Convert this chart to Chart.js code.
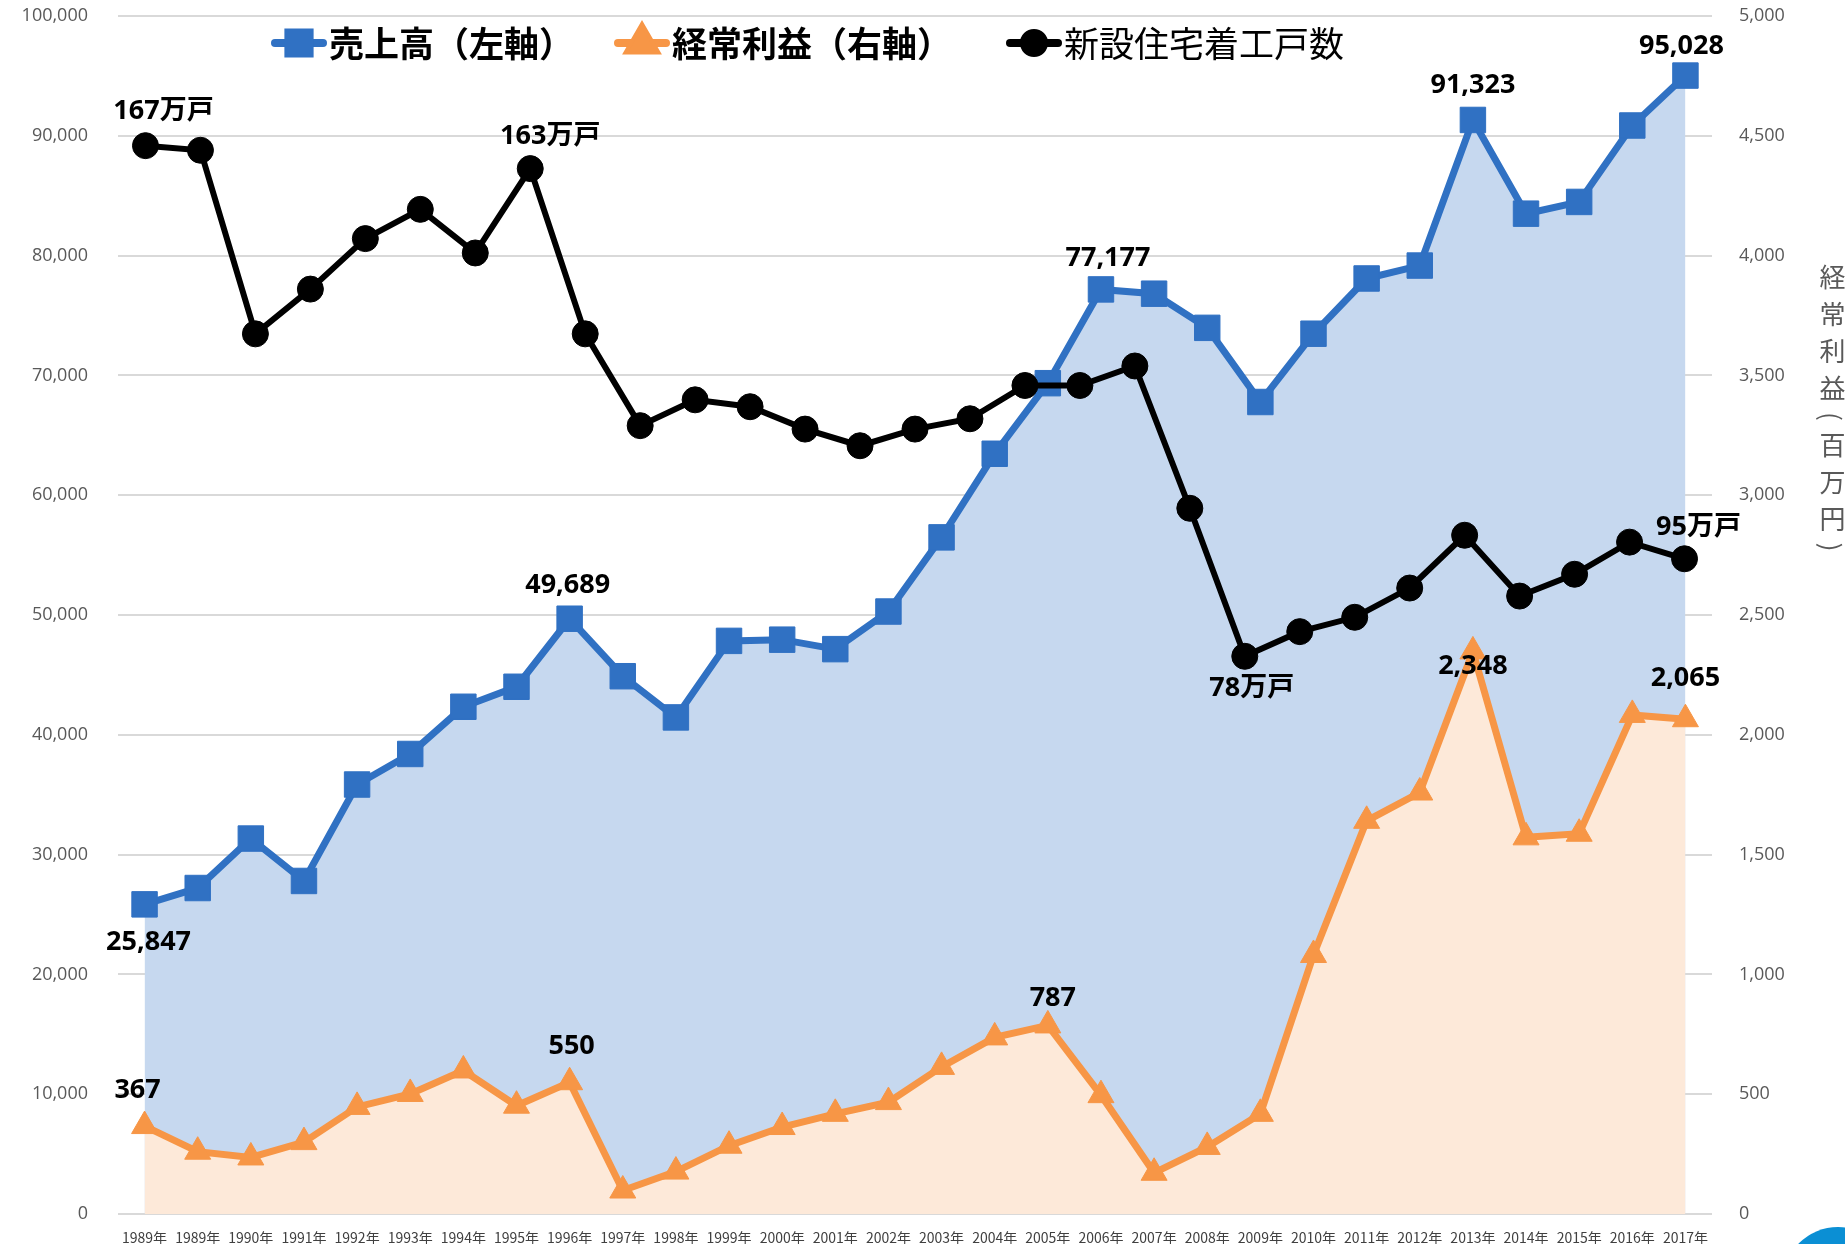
<!DOCTYPE html>
<html lang="ja">
<head>
<meta charset="utf-8">
<title>売上高・経常利益・新設住宅着工戸数</title>
<script src="https://cdn.jsdelivr.net/npm/chart.js@4.4.0/dist/chart.umd.min.js"></script>
<style>
  html, body { margin: 0; padding: 0; background: #fff; }
  #wrap { position: relative; width: 1845px; height: 1244px; overflow: hidden; }
  #chart { position: absolute; left: 0; top: 0; }
  #y1title {
    position: absolute; left: 1814px; top: 264px;
    writing-mode: vertical-rl;
    font: 26px "Noto Sans CJK JP", sans-serif;
    color: #595959; letter-spacing: 11px;
  }
  #badge {
    position: absolute; left: 1783px; top: 1227px;
    width: 110px; height: 110px; border-radius: 50%;
    background: #0b8fd4;
  }
</style>
</head>
<body>
<div id="wrap">
  <canvas id="chart" width="1845" height="1244"></canvas>
  <div id="y1title">経常利益(百万円)</div>
  <div id="badge"></div>
</div>
<script>
// データ
const years = ['1989年', '1989年', '1990年', '1991年', '1992年', '1993年', '1994年', '1995年',
  '1996年', '1997年', '1998年', '1999年', '2000年', '2001年', '2002年', '2003年', '2004年',
  '2005年', '2006年', '2007年', '2008年', '2009年', '2010年', '2011年', '2012年', '2013年',
  '2014年', '2015年', '2016年', '2017年'];

// 売上高（百万円・左軸）
const sales = [25847, 27210, 31340, 27800, 35850, 38400, 42340, 44010, 49689, 44890,
  41450, 47840, 47940, 47150, 50290, 56480, 63460, 69350, 77177, 76820,
  73970, 67780, 73480, 78090, 79170, 91323, 83500, 84480, 90860, 95028];

// 経常利益（百万円・右軸）
const profit = [367, 260, 236, 300, 447, 501, 599, 452, 550, 98,
  177, 285, 363, 418, 467, 614, 737, 787, 496, 172,
  280, 418, 1081, 1641, 1759, 2348, 1572, 1587, 2083, 2065];

// 新設住宅着工戸数（万戸）- 29点、別の横軸
const housingStarts = [167, 166.2, 134.2, 142.0, 150.8, 155.9, 148.3, 163, 134.2, 118.2,
  122.7, 121.5, 117.6, 114.7, 117.6, 119.4, 125.2, 125.2, 128.6, 103.8,
  78, 82.3, 84.8, 89.9, 99.1, 88.5, 92.3, 97.9, 95];

// ラベルを付ける点
const salesLabelIdx = [0, 8, 18, 25, 29];
const profitLabelIdx = [0, 8, 17, 25, 29];
const housingLabelIdx = [0, 7, 20, 28];

const BLUE = '#3071c3';
const ORANGE = '#f79646';
const BLUE_FILL = '#c6d8ef';
const ORANGE_FILL = '#fde9d9';
const JP = '"Noto Sans CJK JP", sans-serif';
const NUM = '"Open Sans", "Noto Sans CJK JP", sans-serif';

const fmt = v => v.toLocaleString('en-US');

// データラベル（位置の微調整は見た目に合わせて）
const labelSpec = [
  { ds: 2, idx: salesLabelIdx, text: v => fmt(v), off: [[4, 38], [-2, -33], [7, -31], [0, -35], [-4, -29]] },
  { ds: 3, idx: profitLabelIdx, text: v => fmt(v), off: [[-7, -36], [2, -36], [5, -27], [0, 15], [0, -41]] },
  { ds: 4, idx: housingLabelIdx, text: v => v + '万戸', off: [[18, -34], [20, -32], [7, 32], [14, -31]] }
];

const dataLabels = {
  id: 'dataLabels',
  afterDatasetsDraw(chart) {
    const ctx = chart.ctx;
    ctx.save();
    ctx.font = 'bold 27px ' + NUM;
    ctx.fillStyle = '#000';
    ctx.textAlign = 'center';
    ctx.textBaseline = 'middle';
    labelSpec.forEach(spec => {
      const meta = chart.getDatasetMeta(spec.ds);
      const values = chart.data.datasets[spec.ds].data;
      spec.idx.forEach((i, k) => {
        const pt = meta.data[i];
        ctx.fillText(spec.text(values[i]), pt.x + spec.off[k][0], pt.y + spec.off[k][1]);
      });
    });
    ctx.restore();
  }
};

// 凡例（グラフの中に重ねて描く）
const legendSpec = [
  { ds: 2, x: 271, bold: true },
  { ds: 3, x: 614, bold: true },
  { ds: 4, x: 1006, bold: false }
];

const customLegend = {
  id: 'customLegend',
  afterDraw(chart) {
    const ctx = chart.ctx;
    const y = 43;
    ctx.save();
    legendSpec.forEach(item => {
      const ds = chart.data.datasets[item.ds];
      ctx.strokeStyle = ds.borderColor;
      ctx.lineWidth = 8;
      ctx.lineCap = 'round';
      ctx.beginPath();
      ctx.moveTo(item.x + 4, y);
      ctx.lineTo(item.x + 52, y);
      ctx.stroke();
      Chart.helpers.drawPoint(ctx, {
        pointStyle: ds.pointStyle, radius: ds.pointStyle === 'circle' ? 10 : 15,
        borderWidth: 1, rotation: 0
      }, item.x + 28, y);
      ctx.fillStyle = ds.borderColor;
      ctx.fill();
      ctx.fillStyle = '#000';
      ctx.font = (item.bold ? 'bold ' : '') + '35px ' + JP;
      ctx.textAlign = 'left';
      ctx.textBaseline = 'middle';
      ctx.fillText(ds.label, item.x + 58, y + 1);
    });
    ctx.restore();
  }
};

const tickFont = { family: NUM, size: 18 };

new Chart(document.getElementById('chart'), {
  type: 'line',
  data: {
    labels: years,
    datasets: [
      { label: 'salesArea', data: sales, yAxisID: 'y', fill: 'origin', backgroundColor: BLUE_FILL,
        borderWidth: 0, pointRadius: 0, order: 10 },
      { label: 'profitArea', data: profit, yAxisID: 'y1', fill: 'origin', backgroundColor: ORANGE_FILL,
        borderWidth: 0, pointRadius: 0, order: 9 },
      { label: '売上高（左軸）', data: sales, yAxisID: 'y', borderColor: BLUE, backgroundColor: BLUE,
        borderWidth: 7, pointStyle: 'rect', pointRadius: 18, pointBorderWidth: 1, order: 3 },
      { label: '経常利益（右軸）', data: profit, yAxisID: 'y1', borderColor: ORANGE, backgroundColor: ORANGE,
        borderWidth: 7, pointStyle: 'triangle', pointRadius: 15, pointBorderWidth: 1, order: 2 },
      { label: '新設住宅着工戸数', data: housingStarts, xAxisID: 'x2', yAxisID: 'y2',
        borderColor: '#000', backgroundColor: '#000', borderWidth: 6,
        pointStyle: 'circle', pointRadius: 13, pointBorderWidth: 1, order: 1 }
    ]
  },
  options: {
    responsive: false,
    animation: false,
    layout: { autoPadding: false, padding: { top: 16, left: 0, right: 0, bottom: 0 } },
    plugins: { legend: { display: false }, tooltip: { enabled: false } },
    elements: { line: { tension: 0 } },
    scales: {
      x: {
        offset: true,
        grid: { display: false },
        border: { display: false },
        ticks: { color: '#404040', font: { family: JP, size: 14 }, maxRotation: 0, autoSkip: false, padding: 7 },
        afterFit: s => { s.height = 30; }
      },
      x2: {
        type: 'category',
        position: 'bottom',
        labels: housingStarts.map((_, i) => String(i)),
        offset: true,
        display: false,
        afterFit: s => { s.height = 0; }
      },
      y: {
        position: 'left',
        min: 0, max: 100000,
        ticks: { stepSize: 10000, color: '#595959', font: tickFont, padding: 0, callback: v => fmt(v) },
        grid: { color: '#d9d9d9', lineWidth: 2, drawTicks: true, tickLength: 30, tickColor: 'rgba(0,0,0,0)' },
        border: { display: false },
        afterFit: s => { s.width = 118; }
      },
      y1: {
        position: 'right',
        min: 0, max: 5000,
        ticks: { stepSize: 500, color: '#595959', font: tickFont, padding: 0, callback: v => fmt(v) },
        grid: { drawOnChartArea: false, drawTicks: true, tickLength: 27, tickColor: 'rgba(0,0,0,0)' },
        border: { display: false },
        afterFit: s => { s.width = 133; }
      },
      y2: {
        position: 'left',
        display: false,
        min: -19.2, max: 189.6,
        afterFit: s => { s.width = 0; }
      }
    }
  },
  plugins: [dataLabels, customLegend]
});
</script>
</body>
</html>
